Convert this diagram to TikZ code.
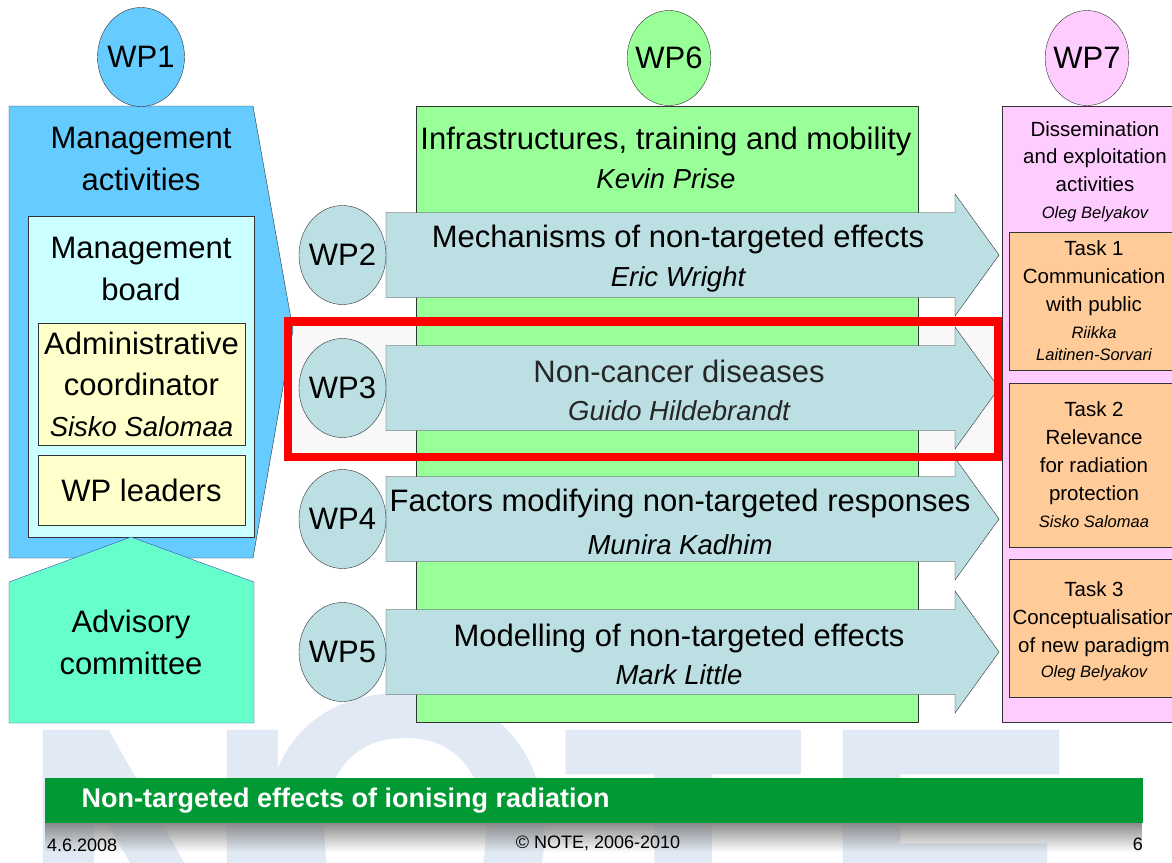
\documentclass[tikz,border=0pt]{standalone}
\usepackage{fontspec}
\setmainfont{Liberation Sans}
\usetikzlibrary{shapes.geometric, positioning, fadings}
\definecolor{wpblue}{HTML}{66CCFF}
\definecolor{boardcyan}{HTML}{CCFFFF}
\definecolor{adminyellow}{HTML}{FFFFCC}
\definecolor{advisorygreen}{HTML}{66FFCC}
\definecolor{advisoryline}{HTML}{4444BB}
\definecolor{wpgreen}{HTML}{99FF99}
\definecolor{arrowteal}{HTML}{BBDFE2}
\definecolor{wppink}{HTML}{FFCCFF}
\definecolor{taskorange}{HTML}{FFCC99}
\definecolor{notered}{HTML}{FF0000}
\definecolor{notegreen}{HTML}{009933}
\definecolor{watermark}{HTML}{E1EAF4}
\definecolor{framegray}{HTML}{F8F8F8}
\newcommand{\itname}{\fontsize{27.5}{33}\selectfont\itshape}
\newcommand{\tinyname}{\fontsize{16.5}{22}\selectfont\itshape}

\begin{document}
\begin{tikzpicture}[x=1pt, y=-1pt]
\tikzstyle{wpcircle} = [ellipse, draw=black!80, inner sep=-4pt, minimum width=87pt, minimum height=99pt, font=\fontsize{31}{36}\selectfont]
\tikzstyle{bigtext} = [align=center, font=\fontsize{31}{42}\selectfont]
\tikzstyle{smalltext} = [align=center, font=\fontsize{20.5}{27.5}\selectfont]
\tikzstyle{leaderbox} = [rectangle, draw=black!80, fill=adminyellow, minimum width=207pt, align=center, font=\fontsize{31}{41}\selectfont]
\tikzstyle{taskbox} = [rectangle, draw=black!80, fill=taskorange, minimum width=170pt, align=center, font=\fontsize{20.5}{28}\selectfont]
\tikzstyle{wparrow} = [draw=black!80, fill=arrowteal]
\tikzstyle{letter} = [inner sep=0pt, text=watermark, font=\fontsize{400}{400}\selectfont\bfseries]
\tikzstyle{footnote} = [font=\fontsize{18}{21}\selectfont]

\useasboundingbox (0,0) rectangle (1172,862);
\clip (0,0) rectangle (1172,862);
\fill[white] (0,0) rectangle (1172,862);

\node (markn) [letter, anchor=north west] at (16,730) {N};
\node (marko) [letter, anchor=north] at (406,693) {O};
\node (markt) [letter, anchor=north] at (684,730) {T};
\node (marke) [letter, anchor=north west] at (816,730) {E};

\fill[framegray] (288,321.5) rectangle (998,457);

\draw[fill=wpblue, draw=black!80] (9,106) -- (253,106) -- (293,330) -- (253,558) -- (9,558) -- cycle;
\node (wpone) [wpcircle, fill=wpblue] at (141,57) {WP1};
\node (mgmtact) [bigtext] at (141,159) {Management\\activities};
\draw[fill=boardcyan, draw=black!80] (28,216) rectangle (254,537);
\node (board) [bigtext] at (141,269) {Management\\board};
\node (admin) [leaderbox, minimum height=122pt] at (141.5,384) {Administrative\\coordinator\\{\itname Sisko Salomaa}};
\node (leaders) [leaderbox, minimum height=70pt] at (141.5,490) {WP leaders};
\draw[fill=advisorygreen, draw=advisoryline] (9,582) -- (131,537) -- (254,582) -- (254,723) -- (9,723) -- cycle;
\node (advisory) [bigtext] at (131,642) {Advisory\\committee};

\draw[fill=wpgreen, draw=black!80] (416,106) rectangle (918,722);
\node (wpsix) [wpcircle, fill=wpgreen, minimum width=82pt, minimum height=95pt] at (669,58) {WP6};
\node (infra) [bigtext] at (666,158) {Infrastructures, training and mobility\\[-3pt]{\itname Kevin Prise}};

\foreach \c/\n in {255/2, 388/3, 519/4, 652/5} {
  \draw[wparrow] (386,\c-42.5) -- (955,\c-42.5) -- (955,\c-61) -- (999,\c) -- (955,\c+61) -- (955,\c+42.5) -- (386,\c+42.5) -- cycle;
  \node (wp\n) [wpcircle, fill=arrowteal] at (342.5,\c) {WP\n};
}
\node (mech) [bigtext] at (678,259) {Mechanisms of non-targeted effects\\[-3pt]{\itname Eric Wright}};
\node (noncancer) [bigtext, text=black!85] at (679,390) {Non-cancer diseases\\[-4pt]{\itname Guido Hildebrandt}};
\node (factors) [bigtext] at (680,521.5) {Factors modifying non-targeted responses\\[1pt]{\itname Munira Kadhim}};
\node (modelling) [bigtext] at (679,654) {Modelling of non-targeted effects\\[-4pt]{\itname Mark Little}};

\draw[fill=wppink, draw=black!80] (1002,106) rectangle (1195,722);
\node (wpseven) [wpcircle, fill=wppink, minimum width=82pt, minimum height=95pt] at (1087,58) {WP7};
\node (dissem) [smalltext] at (1095,172) {Dissemination\\and exploitation\\activities\\{\tinyname Oleg Belyakov}};
\node (taskone) [taskbox, minimum height=138pt] at (1094,301) {Task 1\\Communication\\with public\\[-1pt]{\tinyname Riikka}\\[-6pt]{\tinyname Laitinen-Sorvari}};
\node (tasktwo) [taskbox, minimum height=164pt] at (1094,465) {Task 2\\Relevance\\for radiation\\protection\\[-1pt]{\tinyname Sisko Salomaa}};
\node (taskthree) [taskbox, minimum height=138pt] at (1094,628) {\\[-6pt]Task 3\\Conceptualisation\\of new paradigm\\[-3pt]{\tinyname Oleg Belyakov}};

\draw[notered, line width=8.5pt] (288,321.5) rectangle (998,457);

\fill[black!50, path fading=south] (45,820) rectangle (1143,852);
\fill[notegreen] (45,778) rectangle (1143,823);
\node (title) [anchor=west, text=white, font=\fontsize{27}{32}\selectfont\bfseries] at (78,801) {Non-targeted effects of ionising radiation};
\node (date) [footnote, anchor=west, inner sep=0pt] at (47,845) {4.6.2008};
\node (copyright) [footnote] at (598,843) {© NOTE, 2006-2010};
\node (pageno) [footnote, anchor=east, inner sep=0pt] at (1143,844) {6};
\end{tikzpicture}
\end{document}
